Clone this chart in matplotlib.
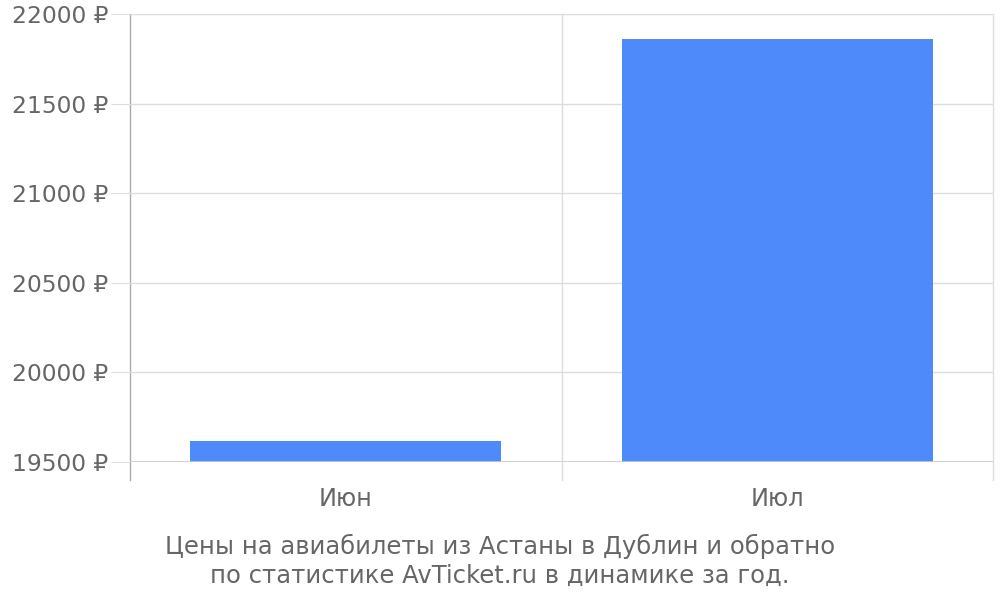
import matplotlib
matplotlib.use('Agg')
import matplotlib.pyplot as plt
import numpy as np

months = ['Июн', 'Июл']
prices = [19615, 21862]
y_ticks = [19500, 20000, 20500, 21000, 21500, 22000]
caption = 'Цены на авиабилеты из Астаны в Дублин и обратно\nпо статистике AvTicket.ru в динамике за год.'

text_color = '#666666'
bar_color = '#4e8af9'

fig = plt.figure(figsize=(10, 6), dpi=100)
ax = fig.add_axes([0.13, 0.23, 0.863, 0.7467])

x = np.arange(len(months)) + 0.5
ax.bar(x, prices, width=0.72, color=bar_color, zorder=3)

ax.set_xlim(0, len(months))
ax.set_ylim(y_ticks[0], y_ticks[-1])
ax.set_yticks(y_ticks)
ax.set_yticklabels([f'{v} ₽' for v in y_ticks])
ax.set_xticks(x)
ax.set_xticklabels(months)

for s in ax.spines.values():
    s.set_visible(False)

ax.grid(axis='y', color='#dddddd', linewidth=1, zorder=0)
ax.tick_params(axis='y', length=14, color='#dddddd', colors=text_color, labelsize=16.8, pad=1.5)
ax.tick_params(axis='x', length=0, colors=text_color, labelsize=17.3, pad=18)

# category separators
for i in range(len(months) + 1):
    c = '#aaaaaa' if i == 0 else '#dddddd'
    ax.axvline(i, ymin=-0.04, ymax=1, color=c, linewidth=1, clip_on=False, zorder=1)
ax.axhline(y_ticks[0], color='#cccccc', linewidth=1.2, zorder=4)

fig.text(0.5, 0.065, caption, ha='center', va='center', fontsize=17.5,
         color=text_color, linespacing=1.25)

fig.savefig('out.png', dpi=100)
